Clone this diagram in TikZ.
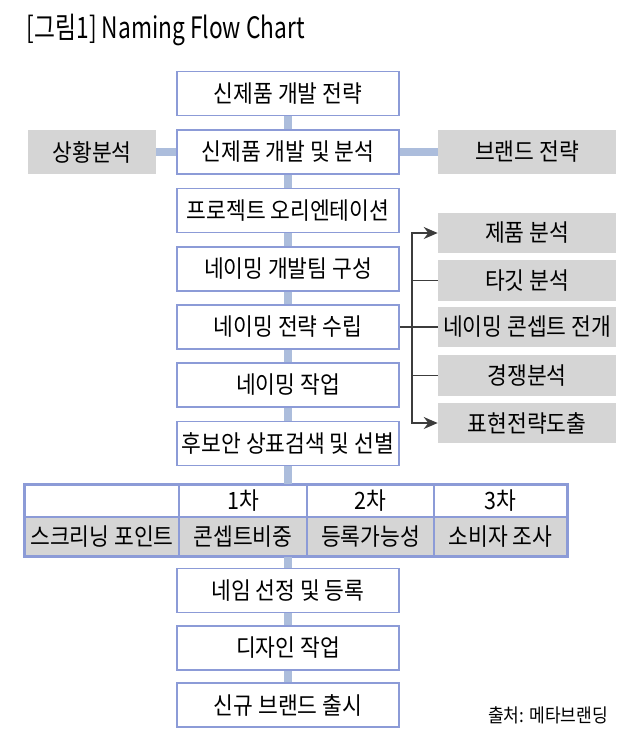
\documentclass[tikz,border=0pt]{standalone}
\usepackage{fontspec}
\setmainfont[FakeStretch=0.9]{Noto Sans CJK KR}
\newfontfamily\titlefont[FakeStretch=0.77]{Noto Sans CJK KR}
\usetikzlibrary{arrows.meta}
\definecolor{boxline}{RGB}{140,155,215}
\definecolor{barblue}{RGB}{172,189,220}
\definecolor{cellgray}{RGB}{213,213,213}
\definecolor{arrowgray}{RGB}{60,60,60}

\begin{document}
\begin{tikzpicture}[>={Stealth[length=3.5mm,width=3mm]},font=\fontsize{17}{19}\selectfont,line cap=butt,
  stepnode/.style={draw=boxline,line width=1.4pt,fill=white,minimum width=5.55cm,minimum height=1.1cm,inner sep=0pt},
  sidenode/.style={fill=cellgray,minimum width=4.45cm,minimum height=1.02cm,inner sep=0pt},
  bar/.style={barblue,line width=5pt},
  branch/.style={arrowgray,line width=1pt},
  headcell/.style={draw=boxline,line width=0.8pt,fill=white,minimum height=0.8cm,inner sep=0pt},
  graycell/.style={draw=boxline,line width=0.8pt,fill=cellgray,minimum height=0.975cm,inner sep=0pt}]
\useasboundingbox (0,0) rectangle (16,-18.55);
\node[anchor=west,font=\titlefont\fontsize{21}{23}\selectfont] (title) at (0.55,-0.75) {[그림1] Naming Flow Chart};
\node[stepnode] (s1) at (7.2,-2.3375) {신제품 개발 전략};
\node[stepnode] (s2) at (7.2,-3.8) {신제품 개발 및 분석};
\node[stepnode] (s3) at (7.2,-5.2625) {프로젝트 오리엔테이션};
\node[stepnode] (s4) at (7.2,-6.7175) {네이밍 개발팀 구성};
\node[stepnode] (s5) at (7.2,-8.175) {네이밍 전략 수립};
\node[stepnode] (s6) at (7.2,-9.625) {네이밍 작업};
\node[stepnode] (s7) at (7.2,-11.0875) {후보안 상표검색 및 선별};
\node[stepnode] (s8) at (7.2,-14.7625) {네임 선정 및 등록};
\node[stepnode] (s9) at (7.2,-16.2) {디자인 작업};
\node[stepnode] (s10) at (7.2,-17.625) {신규 브랜드 출시};
\node[sidenode,minimum width=3.2cm,minimum height=1.1cm] (sit) at (2.3,-3.8) {상황분석};
\node[sidenode,minimum height=1.1cm] (brand) at (13.175,-3.8) {브랜드 전략};
\node[sidenode] (p1) at (13.175,-5.825) {제품 분석};
\node[sidenode] (p2) at (13.175,-7.0125) {타깃 분석};
\node[sidenode] (p3) at (13.175,-8.175) {네이밍 콘셉트 전개};
\node[sidenode] (p4) at (13.175,-9.3875) {경쟁분석};
\node[sidenode] (p5) at (13.175,-10.575) {표현전략도출};
\node[headcell,minimum width=3.85cm] (h0) at (2.55,-12.525) {};
\node[headcell,minimum width=3.2cm] (h1) at (6.075,-12.525) {1차};
\node[headcell,minimum width=3.175cm] (h2) at (9.2625,-12.525) {2차};
\node[headcell,minimum width=3.325cm] (h3) at (12.5125,-12.525) {3차};
\node[graycell,minimum width=3.85cm] (c0) at (2.55,-13.4125) {스크리닝 포인트};
\node[graycell,minimum width=3.2cm] (c1) at (6.075,-13.4125) {콘셉트비중};
\node[graycell,minimum width=3.175cm] (c2) at (9.2625,-13.4125) {등록가능성};
\node[graycell,minimum width=3.325cm] (c3) at (12.5125,-13.4125) {소비자 조사};
\draw[boxline,line width=1.4pt] (h0.north west) rectangle (c3.south east);
\node[anchor=east,font=\fontsize{13.5}{15}\selectfont] (src) at (15.325,-17.875) {출처: 메타브랜딩};
\draw[bar] (s1.south) -- (s2.north);
\draw[bar] (s2.south) -- (s3.north);
\draw[bar] (s3.south) -- (s4.north);
\draw[bar] (s4.south) -- (s5.north);
\draw[bar] (s5.south) -- (s6.north);
\draw[bar] (s6.south) -- (s7.north);
\draw[bar] (s7.south) -- (s7.south|-h1.north);
\draw[bar] (s8.north|-c1.south) -- (s8.north);
\draw[bar] (s8.south) -- (s9.north);
\draw[bar] (s9.south) -- (s10.north);
\draw[bar] (sit.east) -- (s2.west);
\draw[bar] (s2.east) -- (brand.west);
\coordinate (fork) at (10.3,-8.175);
\draw[branch] (s5.east) -- (p3.west);
\draw[branch,->] (fork) |- (p1.west);
\draw[branch,->] (fork) |- (p5.west);
\draw[branch] (fork|-p2.west) -- (p2.west);
\draw[branch] (fork|-p4.west) -- (p4.west);
\end{tikzpicture}
\end{document}
